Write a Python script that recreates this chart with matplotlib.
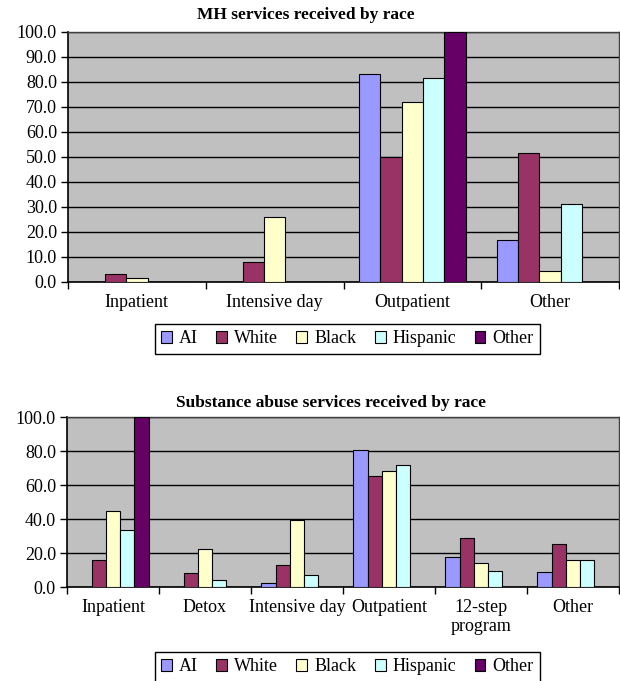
import numpy as np
import matplotlib.pyplot as plt
from matplotlib.ticker import FixedLocator, FormatStrFormatter

# ----------------------------
# Data (percent of each race group)
# ----------------------------
races = ["AI", "White", "Black", "Hispanic", "Other"]
race_colors = ["#9999FF", "#993366", "#FFFFCC", "#CCFFFF", "#660066"]

mh_categories = ["Inpatient", "Intensive day", "Outpatient", "Other"]
mh_ai = [0.0, 0.0, 83.0, 16.8]
mh_white = [3.2, 8.0, 49.7, 51.4]
mh_black = [1.5, 26.0, 72.0, 4.2]
mh_hispanic = [0.0, 0.0, 81.3, 31.0]
mh_other = [0.0, 0.0, 100.0, 0.0]

sa_categories = ["Inpatient", "Detox", "Intensive day", "Outpatient",
                 "12-step\nprogram", "Other"]
sa_ai = [0.0, 0.0, 2.3, 80.7, 17.5, 8.7]
sa_white = [16.0, 8.0, 12.8, 65.5, 28.7, 25.5]
sa_black = [44.7, 22.2, 39.2, 68.0, 14.3, 15.8]
sa_hispanic = [33.5, 4.0, 7.3, 72.0, 9.5, 15.8]
sa_other = [100.0, 0.0, 0.0, 0.0, 0.0, 0.0]

plt.rcParams["font.family"] = ["Liberation Serif", "DejaVu Serif"]
plt.rcParams["font.size"] = 13

fig = plt.figure(figsize=(6.2, 6.81), dpi=100)


def draw_panel(ax, categories, series, ystep, title, title_x, title_y):
    n = len(categories)
    x = np.arange(n)
    w = 0.155
    ax.set_facecolor("#C0C0C0")
    for i, (vals, color) in enumerate(zip(series, race_colors)):
        ax.bar(x + (i - 2) * w, vals, width=w, color=color,
               edgecolor="black", linewidth=0.8, label=races[i], zorder=3)
    ax.set_xlim(-0.5, n - 0.5)
    ax.set_ylim(0, 100)
    ax.yaxis.set_major_locator(FixedLocator(np.arange(0, 100.1, ystep)))
    ax.yaxis.set_major_formatter(FormatStrFormatter("%.1f"))
    ax.grid(axis="y", color="black", linewidth=1.0, zorder=1)
    ax.set_xticks(x)
    ax.set_xticklabels(categories, linespacing=1.15)
    ax.set_xticks(np.arange(-0.5, n), minor=True)
    ax.tick_params(axis="x", which="major", length=0, pad=9)
    ax.tick_params(axis="x", which="minor", length=5, width=1)
    ax.tick_params(axis="y", length=5, width=1, pad=3)
    for s in ["left", "bottom"]:
        ax.spines[s].set_color("black")
        ax.spines[s].set_linewidth(1.2)
    for s in ["top", "right"]:
        ax.spines[s].set_color("#404040")
        ax.spines[s].set_linewidth(1.0)
    fig.text(title_x, title_y, title, ha="center", va="center",
             fontweight="bold", fontsize=12.5)


ax1 = fig.add_axes([68 / 620, 1 - 281.5 / 681, 551 / 620, 249.8 / 681])
draw_panel(ax1, mh_categories,
           [mh_ai, mh_white, mh_black, mh_hispanic, mh_other],
           10, "MH services received by race", 306 / 620, 1 - 15 / 681)

ax2 = fig.add_axes([67 / 620, 1 - 587 / 681, 552 / 620, 170 / 681])
draw_panel(ax2, sa_categories,
           [sa_ai, sa_white, sa_black, sa_hispanic, sa_other],
           20, "Substance abuse services received by race", 331 / 620, 1 - 403 / 681)

for ax, ytop in [(ax1, 324), (ax2, 652)]:
    leg = ax.legend(loc="upper center", bbox_to_anchor=(347.5 / 620, 1 - ytop / 681),
                    bbox_transform=fig.transFigure, ncol=5, frameon=True,
                    fancybox=False, edgecolor="black", framealpha=1,
                    handlelength=0.6, handleheight=0.6, handletextpad=0.4,
                    columnspacing=1.0, borderpad=0.35, borderaxespad=0,
                    fontsize=13)
    leg.get_frame().set_linewidth(1.0)

fig.savefig("out.png", dpi=100)
